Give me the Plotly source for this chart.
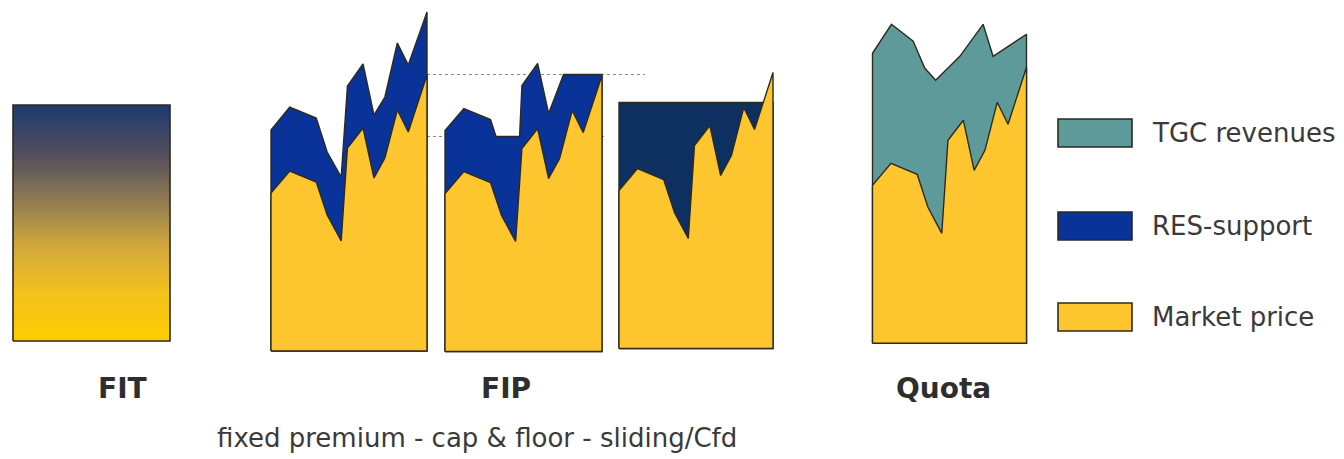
import plotly.graph_objects as go

W, H = 1344, 459

# ---- data (arbitrary revenue units above zero) ----
# market price profile shared by every support scheme
t = [0.00, 0.12, 0.29, 0.36, 0.45, 0.49, 0.59, 0.66, 0.73, 0.81, 0.88, 1.00]
market_price = [158, 180, 169, 136, 110, 203, 223, 173, 193, 241, 219, 276]

# feed-in tariff: fixed level
fit_tariff = 236

# feed-in premium, fixed premium on top of the market price
premium_top = [221, 244, 233, 199, 174, 265, 287, 236, 254, 308, 286, 339]

# feed-in premium with cap & floor
capfloor_t = [0.00, 0.12, 0.29, 0.325, 0.475, 0.49, 0.59, 0.66, 0.755, 1.00]
capfloor_top = [221, 243, 232, 215, 215, 266, 288, 238, 277, 277]
cap_level = 277
floor_level = 215

# sliding premium / contract for difference
strike_price = 246

# quota with tradable green certificates
tgc_t = [0.00, 0.123, 0.264, 0.34, 0.41, 0.567, 0.718, 0.783, 1.00]
tgc_top = [290, 319, 302, 275, 263, 287, 319, 287, 309]

scheme_labels = ["FIT", "FIP", "Quota"]
fip_variants = "fixed premium - cap & floor - sliding/Cfd"
legend_items = ["TGC revenues", "RES-support", "Market price"]

# ---- styling ----
YELLOW = "#FDC62F"
BLUE = "#0A3399"
NAVY = "#0D3060"
TEAL = "#5F9A9B"
EDGE = "#2E2A1E"
FONT = "DejaVu Sans"
TXT = "#2E2E2E"

# panel boxes in page pixels: left, right, baseline
panels = [
    (13, 170, 341),      # FIT
    (271, 427, 351),     # fixed premium
    (445, 602, 351.5),   # cap & floor
    (619, 773, 348.5),   # sliding / CfD
    (872.5, 1026.5, 343.3),  # quota
]
PAD = 3

fig = go.Figure()
layout_axes = {}
for i, (l, r, b) in enumerate(panels, start=1):
    top = 2
    R = b - top
    w = r - l
    sx = "" if i == 1 else str(i)
    layout_axes[f"xaxis{sx}"] = dict(
        domain=[(l - PAD) / W, (r + PAD) / W],
        range=[-PAD / w, 1 + PAD / w],
        visible=False, fixedrange=True,
        anchor=f"y{sx}",
    )
    layout_axes[f"yaxis{sx}"] = dict(
        domain=[1 - (b + PAD) / H, 1 - top / H],
        range=[-PAD, R],
        visible=False, fixedrange=True,
        anchor=f"x{sx}",
    )


def area(xs, ys, color, k, width=1.4, **extra):
    """Closed polygon from the baseline up to the given profile."""
    sx = "" if k == 1 else str(k)
    fig.add_trace(go.Scatter(
        x=[xs[0]] + list(xs) + [xs[-1], xs[0]],
        y=[0] + list(ys) + [0, 0],
        mode="lines", fill="toself", fillcolor=color,
        line=dict(color=EDGE, width=width),
        hoverinfo="skip", showlegend=False,
        xaxis=f"x{sx}", yaxis=f"y{sx}", **extra,
    ))


# FIT: one fixed tariff, shaded as a vertical gradient
area([0, 1], [fit_tariff, fit_tariff], YELLOW, 1, width=1.6,
     fillgradient=dict(
         type="vertical",
         colorscale=[
             [0.0, "#FFCC00"], [0.2, "#F3C21C"], [0.4, "#D2A83A"],
             [0.6, "#8E7A52"], [0.78, "#55505C"], [1.0, "#1C3A70"],
         ],
     ))

# FIP fixed premium
area(t, premium_top, BLUE, 2)
area(t, market_price, YELLOW, 2)

# FIP cap & floor
area(capfloor_t, capfloor_top, BLUE, 3)
area(t, market_price, YELLOW, 3)

# sliding premium / CfD: support fills the gap up to the strike price
area([0, 1], [strike_price, strike_price], NAVY, 4)
area(t, market_price, YELLOW, 4)

# quota: certificate revenues on top of the market price
area(tgc_t, tgc_top, TEAL, 5)
area(t, market_price, YELLOW, 5)

shapes = []
# cap and floor reference levels
for level, x_end in [(cap_level, 645), (floor_level, 605)]:
    shapes.append(dict(
        type="line", xref="paper", yref="y3",
        x0=427 / W, x1=x_end / W, y0=level, y1=level,
        line=dict(color="#8A8A8A", width=1, dash="dot"), layer="below",
    ))

annotations = []
# legend
legend_colors = [TEAL, BLUE, YELLOW]
legend_rows = [133, 226, 317]
for name, col, yc in zip(legend_items, legend_colors, legend_rows):
    shapes.append(dict(
        type="rect", xref="paper", yref="paper",
        x0=1058 / W, x1=1132 / W,
        y0=1 - (yc + 14) / H, y1=1 - (yc - 14) / H,
        fillcolor=col, line=dict(color=EDGE, width=1.6),
    ))
    annotations.append(dict(
        x=1150 / W, y=1 - yc / H, xref="paper", yref="paper",
        text=name, showarrow=False, xanchor="left", yanchor="middle",
        font=dict(family=FONT, size=26, color="#3A3A3A"),
    ))

# scheme labels
for name, xc in zip(scheme_labels, [123, 506, 943]):
    annotations.append(dict(
        x=xc / W, y=1 - 388 / H, xref="paper", yref="paper",
        text=f"<b>{name}</b>", showarrow=False,
        xanchor="center", yanchor="middle",
        font=dict(family=FONT, size=28, color=TXT),
    ))
annotations.append(dict(
    x=477 / W, y=1 - 438 / H, xref="paper", yref="paper",
    text=fip_variants, showarrow=False,
    xanchor="center", yanchor="middle",
    font=dict(family=FONT, size=26, color="#3A3A3A"),
))

fig.update_layout(
    width=W, height=H,
    margin=dict(l=0, r=0, t=0, b=0),
    paper_bgcolor="white", plot_bgcolor="rgba(0,0,0,0)",
    showlegend=False,
    shapes=shapes, annotations=annotations,
    **layout_axes,
)

fig.write_html("out.html", config=dict(displayModeBar=False, staticPlot=True))
